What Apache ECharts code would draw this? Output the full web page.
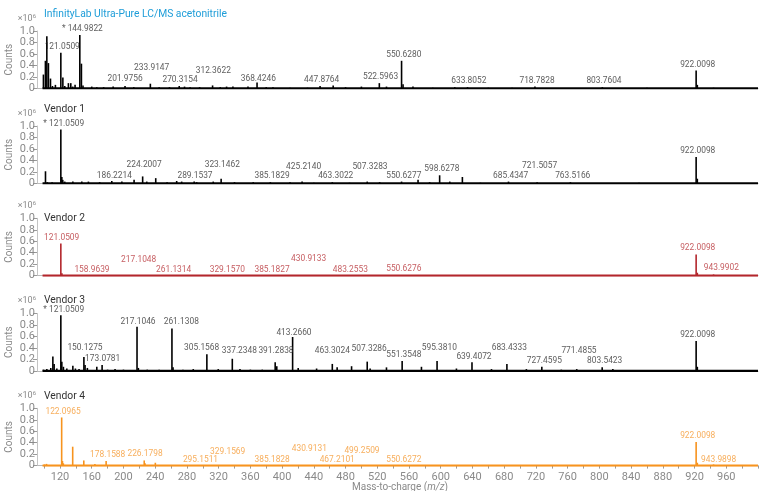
<!DOCTYPE html>
<html>
<head>
<meta charset="utf-8">
<script src="https://cdn.jsdelivr.net/npm/echarts@6/dist/echarts.min.js"></script>
<style>html,body{margin:0;padding:0;background:#fff}#c{width:759px;height:491px}</style>
</head>
<body>
<div id="c"></div>
<script>
// ---------- data ----------
const panelTitles = ['InfinityLab Ultra-Pure LC/MS acetonitrile', 'Vendor 1', 'Vendor 2', 'Vendor 3', 'Vendor 4'];
const xTickLabels = [120,160,200,240,280,320,360,400,440,480,520,560,600,640,680,720,760,800,840,880,920,960];
const xTickMarks = [100,120,140,160,180,200,220,240,260,280,300,320,340,360,380,400,420,440,460,480,500,520,540,560,580,600,620,640,660,680,700,720,740,760,780,800,820,840,860,880,900,920,940,960,980,1000];
const yTickValues = [0, 0.2, 0.4, 0.6, 0.8, 1.0];

// peaks: [m/z, counts (x10^6)]
const peaks1 = [[99.1,0.24],[101.6,0.48],[103.4,0.91],[105.4,0.44],[108,0.17],[110.5,0.04],[114.2,0.06],[121.0509,0.62],[123.6,0.19],[126,0.04],[130.6,0.09],[133.6,0.09],[136,0.03],[139,0.06],[144.9822,0.93],[147,0.43],[149,0.05],[160,0.03],[166.4,0.02],[175,0.02],[187,0.03],[201.9756,0.04],[213,0.02],[233.9147,0.08],[245,0.02],[258,0.02],[270.3154,0.04],[277,0.03],[284,0.02],[296,0.02],[312.3622,0.05],[322,0.02],[330,0.03],[338,0.03],[357,0.03],[368.4246,0.1],[380,0.02],[388.5,0.02],[410,0.01],[432,0.01],[447.8764,0.04],[464.4,0.05],[480,0.02],[500,0.03],[522.5963,0.09],[531.6,0.03],[550.628,0.48],[552.5,0.07],[565,0.03],[590,0.01],[617.7,0.02],[633.8052,0.02],[660,0.01],[690,0.01],[718.7828,0.03],[803.7604,0.02],[860,0.01],[922.0098,0.31],[923.5,0.06],[944,0.01]];
const peaks2 = [[101.7,0.21],[104,0.02],[110,0.02],[121.0509,0.94],[122.3,0.11],[123.5,0.06],[126,0.03],[136.2,0.03],[147.5,0.03],[155.8,0.03],[170,0.02],[185.3,0.04],[198,0.03],[213.4,0.06],[224.2007,0.12],[229.4,0.03],[240.7,0.09],[255,0.02],[267.1,0.04],[273.4,0.03],[289.1537,0.03],[292.3,0.02],[313.2,0.03],[323.1462,0.08],[340,0.02],[363.6,0.02],[385.1829,0.02],[410,0.02],[425.214,0.03],[440,0.01],[463.3022,0.02],[485,0.01],[507.3283,0.03],[523,0.02],[550.6277,0.03],[571.4,0.06],[586,0.02],[598.6278,0.14],[611.4,0.03],[627.3,0.11],[650,0.01],[685.4347,0.03],[721.5057,0.02],[763.5166,0.02],[850,0.01],[922.0098,0.46],[923.5,0.08]];
const peaks3 = [[121.0509,0.56],[122.4,0.04],[158.9639,0.01],[217.1048,0.01],[922.0098,0.37],[923.5,0.05],[943.9902,0.02]];
const peaks4 = [[99.1,0.02],[103.4,0.03],[108.4,0.05],[111,0.25],[112.6,0.12],[116,0.04],[121.0509,0.97],[122.3,0.16],[124.3,0.07],[128.6,0.04],[136.2,0.09],[139.4,0.04],[144,0.03],[150.1275,0.24],[151.6,0.1],[154.5,0.05],[166.4,0.07],[173.0781,0.1],[180,0.02],[189.4,0.03],[200,0.02],[217.1046,0.77],[218.8,0.05],[230,0.02],[245,0.02],[261.1308,0.74],[262.5,0.06],[275,0.02],[288,0.03],[305.1568,0.29],[319.5,0.03],[337.2348,0.21],[346.9,0.03],[360,0.02],[375,0.02],[391.2838,0.15],[393.3,0.08],[413.266,0.59],[420.3,0.05],[443.5,0.04],[463.3024,0.12],[469.4,0.06],[487.6,0.08],[507.3286,0.16],[511,0.04],[531.6,0.06],[551.3548,0.17],[575.7,0.07],[595.381,0.17],[619.8,0.04],[639.4072,0.15],[664,0.03],[683.4333,0.12],[708,0.03],[727.4595,0.07],[752,0.02],[771.4855,0.03],[803.5423,0.06],[817,0.03],[861,0.01],[922.0098,0.52],[923.5,0.07],[943,0.01]];
const peaks5 = [[100.5,0.02],[103,0.03],[122.0965,0.84],[123.1,0.08],[124.2,0.04],[136,0.33],[150,0.09],[164,0.03],[178.1588,0.08],[226.1798,0.09],[227.2,0.04],[240.2,0.05],[922.0098,0.41],[923.5,0.05],[943.9898,0.02]];

// peak annotations: [label centre m/z, label level (x10^6), text]
const labels1 = [[122.8,0.726,'121.0509'],[148.2,1.035,'* 144.9822'],[202.0,0.157,'201.9756'],[235.6,0.349,'233.9147'],[271.3,0.145,'270.3154'],[313.3,0.302,'312.3622'],[370.0,0.157,'368.4246'],[449.9,0.140,'447.8764'],[524.1,0.202,'522.5963'],[553.4,0.581,'550.6280'],[635.4,0.133,'633.8052'],[721.4,0.133,'718.7828'],[805.8,0.133,'803.7604'],[924.0,0.401,'922.0098']];
const labels2 = [[124.7,1.03,'* 121.0509'],[188.5,0.133,'186.2214'],[226.1,0.32,'224.2007'],[290.2,0.127,'289.1537'],[324.6,0.32,'323.1462'],[387.3,0.122,'385.1829'],[427.2,0.29,'425.2140'],[467.6,0.122,'463.3022'],[510.8,0.29,'507.3283'],[553.4,0.133,'550.6277'],[601.4,0.25,'598.6278'],[688.2,0.127,'685.4347'],[724.7,0.302,'721.5057'],[766.4,0.127,'763.5166'],[924.0,0.564,'922.0098']];
const labels3 = [[122.1,0.651,'121.0509'],[160.3,0.105,'158.9639'],[219.2,0.274,'217.1048'],[263.3,0.105,'261.1314'],[330.9,0.105,'329.1570'],[387.3,0.105,'385.1827'],[433.5,0.291,'430.9133'],[486.0,0.105,'483.2553'],[553.4,0.117,'550.6276'],[924.0,0.476,'922.0098'],[953.8,0.14,'943.9902']];
const labels4 = [[124.7,1.056,'* 121.0509'],[151.5,0.405,'150.1275'],[173.8,0.213,'173.0781'],[218.3,0.852,'217.1046'],[272.9,0.852,'261.1308'],[298.6,0.405,'305.1568'],[346.1,0.353,'337.2348'],[392.3,0.346,'391.2838'],[415.0,0.667,'413.2660'],[463.3,0.346,'463.3024'],[509.8,0.387,'507.3286'],[553.5,0.27,'551.3548'],[598.2,0.405,'595.3810'],[641.9,0.236,'639.4072'],[686.4,0.393,'683.4333'],[730.6,0.178,'727.4595'],[774.3,0.353,'771.4855'],[806.7,0.166,'803.5423'],[924.0,0.625,'922.0098']];
const labels5 = [[123.8,0.937,'122.0965'],[180.1,0.187,'178.1588'],[227.2,0.204,'226.1798'],[297.1,0.1,'295.1511'],[331.4,0.232,'329.1569'],[387.5,0.1,'385.1828'],[434.3,0.291,'430.9131'],[469.5,0.1,'467.2101'],[500.7,0.25,'499.2509'],[553.4,0.1,'550.6272'],[924.0,0.511,'922.0098'],[950.4,0.105,'943.9898']];

// scan range (baseline extent) and axis range
const scanRange = [98, 1000];
const xMin = 91, xMax = 1000;

// ---------- layout / style ----------
const peaksAll = [peaks1, peaks2, peaks3, peaks4, peaks5];
const labelsAll = [labels1, labels2, labels3, labels4, labels5];
const lineColors = ['#000000', '#000000', '#b3262c', '#000000', '#f7931e'];
const textColors = ['#333333', '#333333', '#b8343a', '#333333', '#f59a33'];
const titleColors = ['#1e9dd8', '#333333', '#333333', '#333333', '#333333'];
const gridTops = [31, 126, 218.3, 313.5, 408.3];
const titleY = [14, 109, 218.3, 300, 396];
const gridH = 57.3;
const gridLeft = 37, gridRight = 1;
const FONT = 'Roboto';
const GRAY = '#8a8a8a';

const grids = [], xAxes = [], yAxes = [], series = [], graphics = [];
for (let i = 0; i < 5; i++) {
  const last = i === 4;
  grids.push({left: gridLeft, right: gridRight, top: gridTops[i], height: gridH, containLabel: false});
  xAxes.push({
    type: 'value', gridIndex: i, min: xMin, max: xMax, offset: 2,
    axisLine: {show: true, lineStyle: {color: '#b9b9b9', width: 1}},
    axisTick: last ? {show: true, length: 3, lineStyle: {color: '#9a9a9a'}, customValues: xTickMarks} : {show: false},
    axisLabel: last ? {show: true, color: GRAY, fontFamily: FONT, fontSize: 11, margin: 4, customValues: xTickLabels} : {show: false},
    splitLine: {show: false}
  });
  yAxes.push({
    type: 'value', gridIndex: i, min: 0, max: 1, interval: 0.2,
    axisLine: {show: true, lineStyle: {color: '#c4c4c4'}},
    axisTick: {show: true, length: 4, lineStyle: {color: '#9a9a9a'}},
    axisLabel: {color: GRAY, fontFamily: FONT, fontSize: 11, margin: 2, formatter: v => v === 0 ? '0' : v.toFixed(1)},
    splitLine: {show: false}
  });
  series.push({
    type: 'line', xAxisIndex: i, yAxisIndex: i, silent: true, symbol: 'none',
    data: [[scanRange[0], 0], [scanRange[1], 0]],
    lineStyle: {color: lineColors[i], width: 2.3}, z: 3, animation: false
  });
  series.push({
    type: 'bar', xAxisIndex: i, yAxisIndex: i, silent: true, barWidth: 1.6,
    data: peaksAll[i], itemStyle: {color: lineColors[i]}, z: 2, animation: false
  });
  series.push({
    type: 'scatter', xAxisIndex: i, yAxisIndex: i, silent: true, symbolSize: 0, clip: false,
    data: labelsAll[i],
    encode: {x: 0, y: 1},
    label: {show: true, position: [0, 0], align: 'center', verticalAlign: 'middle',
      formatter: p => p.value[2], color: textColors[i], fontFamily: FONT, fontSize: 8.4},
    z: 5, animation: false
  });
  graphics.push({type: 'text', x: 44, y: titleY[i],
    style: {text: panelTitles[i], fill: titleColors[i], font: '10.3px ' + FONT, verticalAlign: 'middle'}});
  graphics.push({type: 'text', x: 36, y: gridTops[i] - 12.5,
    style: {text: '×10{s|6}', fill: GRAY, fontFamily: FONT, fontSize: 9, align: 'right', verticalAlign: 'middle',
      rich: {s: {fontSize: 6, fill: GRAY, fontFamily: FONT, padding: [0, 0, 5, 0]}}}});
  graphics.push({type: 'text', x: 9.5, y: gridTops[i] + gridH / 2, rotation: Math.PI / 2,
    style: {text: 'Counts', fill: GRAY, font: '10px ' + FONT, align: 'center', verticalAlign: 'middle'}});
}
graphics.push({type: 'text', x: 400, y: 487,
  style: {text: 'Mass-to-charge ({i|m/z})', fill: GRAY, fontFamily: FONT, fontSize: 10, align: 'center', verticalAlign: 'middle',
    rich: {i: {fontStyle: 'italic', fill: GRAY, fontFamily: FONT, fontSize: 10}}}});

const chart = echarts.init(document.getElementById('c'), null, {renderer: 'canvas'});
chart.setOption({
  animation: false,
  backgroundColor: '#ffffff',
  textStyle: {fontFamily: FONT},
  grid: grids, xAxis: xAxes, yAxis: yAxes, series: series, graphic: graphics
});
</script>
</body>
</html>
